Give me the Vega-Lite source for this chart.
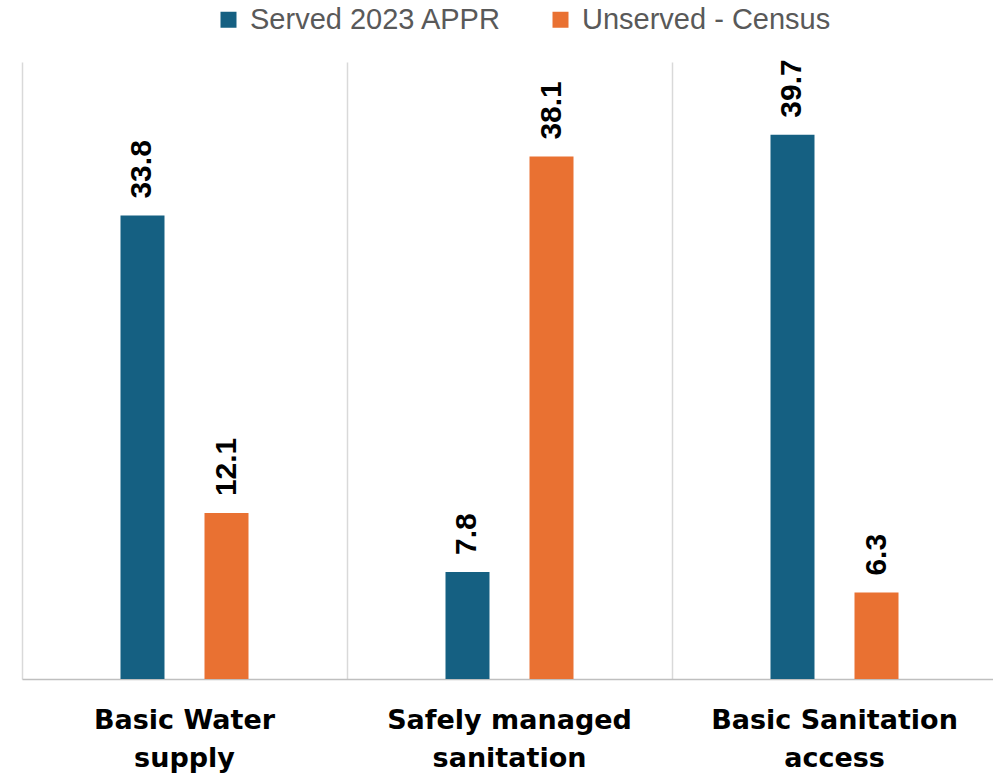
{
  "$schema": "https://vega.github.io/schema/vega-lite/v6.json",
  "width": 975,
  "height": 617,
  "autosize": {"type": "none"},
  "padding": {"left": 22, "top": 62, "right": 0, "bottom": 94},
  "background": "white",
  "config": {"view": {"stroke": null}},
  "data": {"values": [
    {"cat": "Basic Water|supply", "series": "Served 2023 APPR", "value": 33.8},
    {"cat": "Basic Water|supply", "series": "Unserved - Census", "value": 12.1},
    {"cat": "Safely managed|sanitation", "series": "Served 2023 APPR", "value": 7.8},
    {"cat": "Safely managed|sanitation", "series": "Unserved - Census", "value": 38.1},
    {"cat": "Basic Sanitation|access", "series": "Served 2023 APPR", "value": 39.7},
    {"cat": "Basic Sanitation|access", "series": "Unserved - Census", "value": 6.3}
  ]},
  "encoding": {
    "x": {"field": "cat", "type": "nominal", "sort": null,
      "scale": {"paddingInner": 0, "paddingOuter": 0},
      "axis": {"title": null, "labelAngle": 0, "bandPosition": 0, "grid": true, "gridColor": "#d9d9d9", "gridWidth": 1.5,
        "ticks": false, "domainColor": "#bfbfbf", "domainWidth": 1.5, "labelLimit": 0,
        "labelExpr": "split(datum.value, '|')", "labelFont": "DejaVu Sans", "labelFontWeight": "bold", "labelFontSize": 27,
        "labelColor": "#000000", "labelPadding": 28, "labelLineHeight": 38, "labelBaseline": "top", "labelAlign": "center"}},
    "xOffset": {"field": "series", "type": "nominal", "scale": {"paddingInner": 0.131, "paddingOuter": 1}},
    "y": {"field": "value", "type": "quantitative", "scale": {"domain": [0, 45]}, "axis": null}
  },
  "layer": [
    {"mark": {"type": "bar", "width": 44},
     "encoding": {
       "color": {"field": "series", "type": "nominal",
         "scale": {"domain": ["Served 2023 APPR", "Unserved - Census"], "range": ["#156082", "#E97132"]},
         "legend": {"title": null, "orient": "none", "direction": "horizontal", "legendX": 192, "legendY": -57,
           "symbolType": "square", "symbolSize": 256, "symbolStrokeWidth": 0, "labelFont": "Liberation Sans", "labelFontSize": 29,
           "labelColor": "#595959", "columnPadding": 44, "labelOffset": 7, "labelLimit": 0}}
     }},
    {"mark": {"type": "text", "angle": -90, "align": "left", "baseline": "middle", "dx": 17,
       "font": "Liberation Sans", "fontWeight": "bold", "fontSize": 30, "color": "#000000"},
     "encoding": {"text": {"field": "value", "type": "quantitative", "format": ".1f"}}}
  ]
}
